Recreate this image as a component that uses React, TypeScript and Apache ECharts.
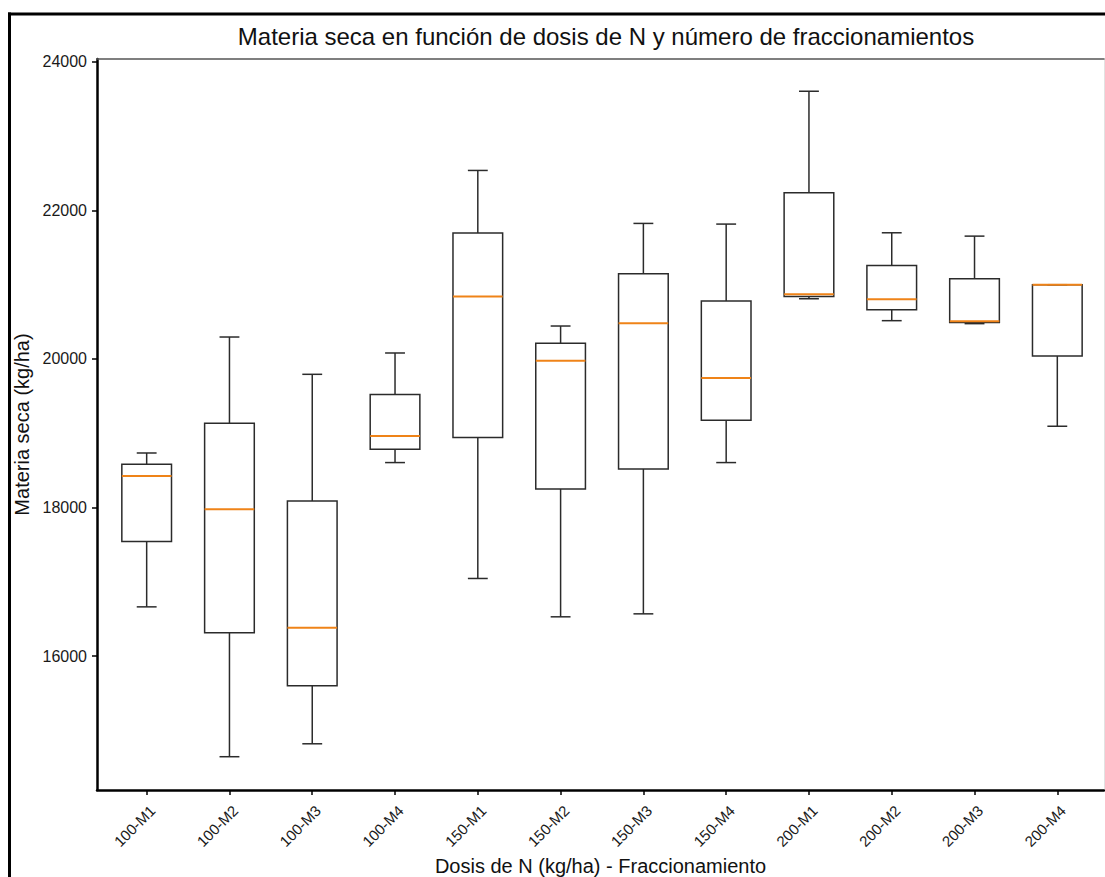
import React, { useEffect, useRef } from "react";
import * as echarts from "echarts";

const categories = ["100-M1", "100-M2", "100-M3", "100-M4", "150-M1", "150-M2", "150-M3", "150-M4", "200-M1", "200-M2", "200-M3", "200-M4"];
const whiskerLow = [16663, 14646, 14820, 18605, 17045, 16529, 16569, 18605, 20810, 20515, 20475, 19094];
const q1 = [17543, 16314, 15601, 18784, 18941, 18250, 18519, 19174, 20840, 20663, 20492, 20039];
const median = [18425, 17977, 16381, 18963, 20842, 19977, 20479, 19743, 20869, 20802, 20506, 20999];
const q3 = [18582, 19134, 18089, 19520, 21694, 20210, 21147, 20779, 22237, 21259, 21080, 20999];
const whiskerHigh = [18734, 20295, 19793, 20080, 22537, 20443, 21824, 21815, 23603, 21698, 21653, 20999];
const yTicks = [16000, 18000, 20000, 22000, 24000];
const xTicks = categories.map((_, i) => i + 1);

const FONT = "'Liberation Sans', Arial, Helvetica, sans-serif";
const BOX_COLOR = "#2b2b2b";
const MEDIAN_COLOR = "#ef8318";

export default function App() {
  const ref = useRef<HTMLDivElement>(null);
  useEffect(() => {
    if (!ref.current) return;
    const chart = echarts.init(ref.current, null, { renderer: "svg" });
    const data = categories.map((_, i) => [i + 1, whiskerLow[i], q1[i], median[i], q3[i], whiskerHigh[i]]);
    const xMin = 0.4;
    const xMax = 12.564;
    const yMin = 14198;
    const yMax = 24037;
    chart.setOption({
      animation: false,
      backgroundColor: "#ffffff",
      textStyle: { fontFamily: FONT },
      title: {
        text: "Materia seca en función de dosis de N y número de fraccionamientos",
        left: 601,
        top: 19,
        textAlign: "center",
        textStyle: { fontFamily: FONT, fontSize: 24, fontWeight: "normal", color: "#111" },
      },
      graphic: [
        {
          type: "line",
          shape: { x1: 8, y1: 14, x2: 1105, y2: 14 },
          style: { stroke: "#000", lineWidth: 3 },
          silent: true,
        },
        {
          type: "line",
          shape: { x1: 9.5, y1: 12.5, x2: 9.5, y2: 877 },
          style: { stroke: "#000", lineWidth: 3 },
          silent: true,
        },
      ],
      grid: { left: 97, right: 1, top: 59, bottom: 87, containLabel: false, outerBoundsMode: "none" },
      xAxis: [
        {
          type: "value",
          min: xMin,
          max: xMax,
          position: "bottom",
          axisLine: { show: true, onZero: false, lineStyle: { color: "#000", width: 2.5 } },
          axisTick: { show: true, customValues: xTicks, length: 5, lineStyle: { color: "#000", width: 1.5 } },
          axisLabel: {
            show: true,
            customValues: xTicks.map((v) => v + 0.07),
            rotate: 45,
            margin: 18,
            fontSize: 15,
            color: "#1a1a1a",
            fontFamily: FONT,
            formatter: (v: number) => categories[Math.round(v) - 1] ?? "",
          },
          splitLine: { show: false },
          name: "Dosis de N (kg/ha) - Fraccionamiento",
          nameLocation: "middle",
          nameGap: 55,
          nameTextStyle: { fontSize: 20, color: "#111", fontFamily: FONT },
        },
        {
          type: "value",
          min: xMin,
          max: xMax,
          position: "top",
          axisLine: { show: true, onZero: false, lineStyle: { color: "#555", width: 1.5 } },
          axisTick: { show: false },
          axisLabel: { show: false },
          splitLine: { show: false },
        },
      ],
      yAxis: [
        {
          type: "value",
          min: yMin,
          max: yMax,
          position: "left",
          axisLine: { show: true, onZero: false, lineStyle: { color: "#000", width: 2.5 } },
          axisTick: { show: true, customValues: yTicks, length: 5, lineStyle: { color: "#000", width: 1.5 } },
          axisLabel: {
            show: true,
            customValues: yTicks,
            margin: 10,
            fontSize: 16,
            color: "#1a1a1a",
            fontFamily: FONT,
            formatter: (v: number) => String(Math.round(v)),
          },
          splitLine: { show: false },
          name: "Materia seca (kg/ha)",
          nameLocation: "middle",
          nameGap: 49,
          nameTextStyle: { fontSize: 20, color: "#111", fontFamily: FONT },
        },
        {
          type: "value",
          min: yMin,
          max: yMax,
          position: "right",
          axisLine: { show: true, onZero: false, lineStyle: { color: "#e2e2e2", width: 1 } },
          axisTick: { show: false },
          axisLabel: { show: false },
          splitLine: { show: false },
        },
      ],
      series: [
        {
          type: "custom",
          xAxisIndex: 0,
          yAxisIndex: 0,
          data,
          encode: { x: 0, y: [1, 2, 3, 4, 5] },
          renderItem: (params: any, api: any) => {
            const x = api.value(0);
            const pLo = api.coord([x, api.value(1)]);
            const pQ1 = api.coord([x, api.value(2)]);
            const pMed = api.coord([x, api.value(3)]);
            const pQ3 = api.coord([x, api.value(4)]);
            const pHi = api.coord([x, api.value(5)]);
            const hw = api.size([0.3, 0])[0];
            const cw = api.size([0.12, 0])[0];
            const cx = pQ1[0];
            const ls = { stroke: BOX_COLOR, lineWidth: 1.5, fill: "none" };
            return {
              type: "group",
              children: [
                { type: "line", shape: { x1: cx, y1: pQ1[1], x2: cx, y2: pLo[1] }, style: ls },
                { type: "line", shape: { x1: cx, y1: pQ3[1], x2: cx, y2: pHi[1] }, style: ls },
                { type: "line", shape: { x1: cx - cw, y1: pLo[1], x2: cx + cw, y2: pLo[1] }, style: ls },
                { type: "line", shape: { x1: cx - cw, y1: pHi[1], x2: cx + cw, y2: pHi[1] }, style: ls },
                {
                  type: "rect",
                  shape: { x: cx - hw, y: pQ3[1], width: 2 * hw, height: pQ1[1] - pQ3[1] },
                  style: ls,
                },
                {
                  type: "line",
                  shape: { x1: cx - hw, y1: pMed[1], x2: cx + hw, y2: pMed[1] },
                  style: { stroke: MEDIAN_COLOR, lineWidth: 2 },
                },
              ],
            };
          },
        },
      ],
    });
    return () => chart.dispose();
  }, []);
  return <div ref={ref} style={{ position: "absolute", left: 0, top: 0, width: 1105, height: 877 }} />;
}
